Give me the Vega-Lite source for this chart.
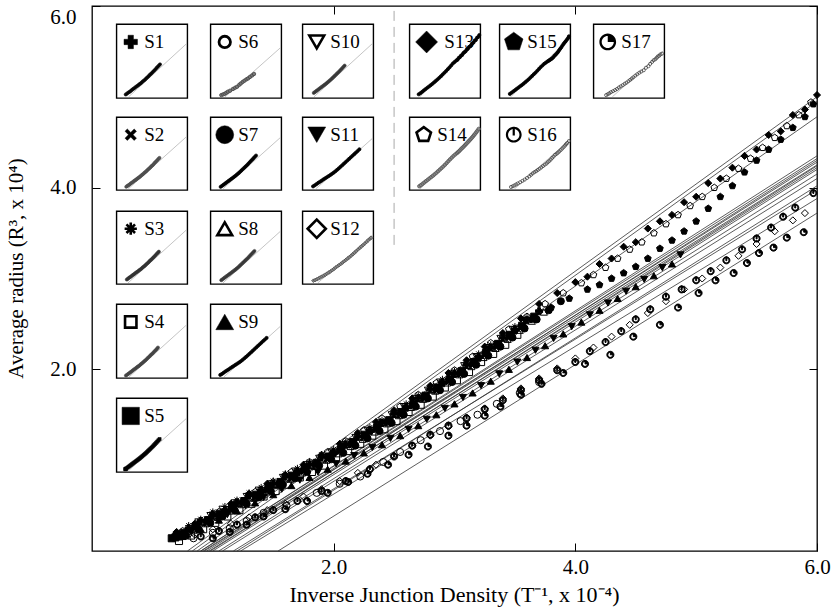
{
"$schema":"https://vega.github.io/schema/vega-lite/v6.json",
"width":725,"height":545,
"autosize":{"type":"none"},
"padding":{"left":92,"top":6,"right":14,"bottom":59},
"background":"white",
"config":{"view":{"stroke":"black","strokeWidth":1.3},"font":"Liberation Serif",
"axis":{"labelFont":"Liberation Serif","titleFont":"Liberation Serif","labelFontSize":21,"titleFontSize":21,"labelColor":"black","titleColor":"black","tickColor":"black","titleFontWeight":"normal","grid":false,"domain":false}},
"datasets":{
"fits":[
{"s":"S1","x":0.95,"y":0},{"s":"S1","x":6,"y":4.3},
{"s":"S2","x":0.92,"y":0},{"s":"S2","x":6,"y":4.28},
{"s":"S3","x":0.9,"y":0},{"s":"S3","x":6,"y":4.35},
{"s":"S4","x":1.0,"y":0},{"s":"S4","x":6,"y":4.2},
{"s":"S5","x":0.93,"y":0},{"s":"S5","x":6,"y":4.25},
{"s":"S6","x":1.17,"y":0},{"s":"S6","x":6,"y":3.98},
{"s":"S7","x":0.97,"y":0},{"s":"S7","x":6,"y":4.22},
{"s":"S8","x":0.98,"y":0},{"s":"S8","x":6,"y":4.24},
{"s":"S9","x":1.08,"y":0},{"s":"S9","x":6,"y":4.1},
{"s":"S10","x":0.9,"y":0},{"s":"S10","x":6,"y":4.32},
{"s":"S11","x":1.05,"y":0},{"s":"S11","x":6,"y":4.15},
{"s":"S12","x":1.23,"y":0},{"s":"S12","x":6,"y":3.88},
{"s":"S13","x":0.79,"y":0},{"s":"S13","x":6,"y":5.0},
{"s":"S14","x":0.83,"y":0},{"s":"S14","x":6,"y":4.95},
{"s":"S15","x":0.87,"y":0},{"s":"S15","x":6,"y":4.78},
{"s":"S16","x":1.2,"y":0},{"s":"S16","x":6,"y":4.02},
{"s":"S17","x":1.54,"y":0},{"s":"S17","x":6,"y":3.72}
],
"pts":[
{"s":"S1","x":0.7,"y":0.19},{"s":"S1","x":0.8,"y":0.25},{"s":"S1","x":0.9,"y":0.33},{"s":"S1","x":1.0,"y":0.39},{"s":"S1","x":1.1,"y":0.45},{"s":"S1","x":1.2,"y":0.53},{"s":"S1","x":1.3,"y":0.61},{"s":"S1","x":1.4,"y":0.67},{"s":"S1","x":1.5,"y":0.74},{"s":"S1","x":1.6,"y":0.82},{"s":"S1","x":1.7,"y":0.88},{"s":"S1","x":1.8,"y":0.95},{"s":"S1","x":1.9,"y":1.03},{"s":"S1","x":2.0,"y":1.09},{"s":"S1","x":2.1,"y":1.17},{"s":"S1","x":2.2,"y":1.26},{"s":"S1","x":2.3,"y":1.33},{"s":"S1","x":2.4,"y":1.41},{"s":"S1","x":2.5,"y":1.51},{"s":"S1","x":2.6,"y":1.59},{"s":"S1","x":2.7,"y":1.68},{"s":"S1","x":2.8,"y":1.78},{"s":"S1","x":2.9,"y":1.86},{"s":"S1","x":3.0,"y":1.95},{"s":"S1","x":3.1,"y":2.05},{"s":"S1","x":3.2,"y":2.14},{"s":"S1","x":3.3,"y":2.24},{"s":"S1","x":3.4,"y":2.35},{"s":"S1","x":3.5,"y":2.44},{"s":"S1","x":3.6,"y":2.54},{"s":"S1","x":3.7,"y":2.64},
{"s":"S2","x":0.75,"y":0.18},{"s":"S2","x":0.85,"y":0.25},{"s":"S2","x":0.95,"y":0.31},{"s":"S2","x":1.05,"y":0.38},{"s":"S2","x":1.15,"y":0.46},{"s":"S2","x":1.25,"y":0.52},{"s":"S2","x":1.35,"y":0.59},{"s":"S2","x":1.45,"y":0.67},{"s":"S2","x":1.55,"y":0.73},{"s":"S2","x":1.65,"y":0.8},{"s":"S2","x":1.75,"y":0.88},{"s":"S2","x":1.85,"y":0.94},{"s":"S2","x":1.95,"y":1.01},{"s":"S2","x":2.05,"y":1.1},{"s":"S2","x":2.15,"y":1.17},{"s":"S2","x":2.25,"y":1.25},{"s":"S2","x":2.35,"y":1.34},{"s":"S2","x":2.45,"y":1.41},{"s":"S2","x":2.55,"y":1.5},{"s":"S2","x":2.65,"y":1.6},{"s":"S2","x":2.75,"y":1.68},{"s":"S2","x":2.85,"y":1.77},{"s":"S2","x":2.95,"y":1.87},{"s":"S2","x":3.05,"y":1.95},{"s":"S2","x":3.15,"y":2.05},{"s":"S2","x":3.25,"y":2.16},{"s":"S2","x":3.35,"y":2.25},{"s":"S2","x":3.45,"y":2.35},{"s":"S2","x":3.55,"y":2.46},{"s":"S2","x":3.65,"y":2.55},
{"s":"S3","x":0.8,"y":0.28},{"s":"S3","x":0.9,"y":0.35},{"s":"S3","x":1.0,"y":0.43},{"s":"S3","x":1.1,"y":0.49},{"s":"S3","x":1.2,"y":0.56},{"s":"S3","x":1.3,"y":0.64},{"s":"S3","x":1.4,"y":0.7},{"s":"S3","x":1.5,"y":0.77},{"s":"S3","x":1.6,"y":0.85},{"s":"S3","x":1.7,"y":0.91},{"s":"S3","x":1.8,"y":0.98},{"s":"S3","x":1.9,"y":1.06},{"s":"S3","x":2.0,"y":1.12},{"s":"S3","x":2.1,"y":1.2},{"s":"S3","x":2.2,"y":1.29},{"s":"S3","x":2.3,"y":1.36},{"s":"S3","x":2.4,"y":1.44},{"s":"S3","x":2.5,"y":1.54},{"s":"S3","x":2.6,"y":1.62},{"s":"S3","x":2.7,"y":1.71},{"s":"S3","x":2.8,"y":1.81},{"s":"S3","x":2.9,"y":1.89},{"s":"S3","x":3.0,"y":1.98},{"s":"S3","x":3.1,"y":2.08},{"s":"S3","x":3.2,"y":2.17},{"s":"S3","x":3.3,"y":2.27},{"s":"S3","x":3.4,"y":2.38},{"s":"S3","x":3.5,"y":2.47},{"s":"S3","x":3.6,"y":2.57},
{"s":"S4","x":0.72,"y":0.11},{"s":"S4","x":0.82,"y":0.17},{"s":"S4","x":0.92,"y":0.24},{"s":"S4","x":1.02,"y":0.31},{"s":"S4","x":1.12,"y":0.38},{"s":"S4","x":1.22,"y":0.45},{"s":"S4","x":1.32,"y":0.52},{"s":"S4","x":1.42,"y":0.6},{"s":"S4","x":1.52,"y":0.66},{"s":"S4","x":1.62,"y":0.73},{"s":"S4","x":1.72,"y":0.81},{"s":"S4","x":1.82,"y":0.87},{"s":"S4","x":1.92,"y":0.94},{"s":"S4","x":2.02,"y":1.03},{"s":"S4","x":2.12,"y":1.1},{"s":"S4","x":2.22,"y":1.18},{"s":"S4","x":2.32,"y":1.27},{"s":"S4","x":2.42,"y":1.34},{"s":"S4","x":2.52,"y":1.43},{"s":"S4","x":2.62,"y":1.53},{"s":"S4","x":2.72,"y":1.61},{"s":"S4","x":2.82,"y":1.7},{"s":"S4","x":2.92,"y":1.8},{"s":"S4","x":3.02,"y":1.88},{"s":"S4","x":3.12,"y":1.97},{"s":"S4","x":3.22,"y":2.08},{"s":"S4","x":3.32,"y":2.17},{"s":"S4","x":3.42,"y":2.27},{"s":"S4","x":3.52,"y":2.38},
{"s":"S5","x":0.66,"y":0.14},{"s":"S5","x":0.69,"y":0.15},{"s":"S5","x":0.72,"y":0.16},{"s":"S5","x":0.76,"y":0.2},{"s":"S5","x":0.86,"y":0.27},{"s":"S5","x":0.96,"y":0.34},{"s":"S5","x":1.06,"y":0.41},{"s":"S5","x":1.16,"y":0.48},{"s":"S5","x":1.26,"y":0.55},{"s":"S5","x":1.36,"y":0.62},{"s":"S5","x":1.46,"y":0.69},{"s":"S5","x":1.56,"y":0.76},{"s":"S5","x":1.66,"y":0.83},{"s":"S5","x":1.76,"y":0.9},{"s":"S5","x":1.86,"y":0.97},{"s":"S5","x":1.96,"y":1.04},{"s":"S5","x":2.06,"y":1.12},{"s":"S5","x":2.16,"y":1.2},{"s":"S5","x":2.26,"y":1.28},{"s":"S5","x":2.36,"y":1.36},{"s":"S5","x":2.46,"y":1.44},{"s":"S5","x":2.56,"y":1.53},{"s":"S5","x":2.66,"y":1.62},{"s":"S5","x":2.76,"y":1.71},{"s":"S5","x":2.86,"y":1.8},{"s":"S5","x":2.96,"y":1.89},{"s":"S5","x":3.06,"y":1.98},{"s":"S5","x":3.16,"y":2.08},{"s":"S5","x":3.26,"y":2.18},{"s":"S5","x":3.36,"y":2.28},{"s":"S5","x":3.46,"y":2.38},{"s":"S5","x":3.56,"y":2.48},{"s":"S5","x":3.66,"y":2.58},
{"s":"S6","x":0.84,"y":0.14},{"s":"S6","x":1.0,"y":0.2},{"s":"S6","x":1.14,"y":0.25},{"s":"S6","x":1.28,"y":0.33},{"s":"S6","x":1.42,"y":0.42},{"s":"S6","x":1.61,"y":0.5},{"s":"S6","x":1.86,"y":0.64},{"s":"S6","x":2.05,"y":0.74},{"s":"S6","x":2.22,"y":0.82},{"s":"S6","x":2.41,"y":0.98},{"s":"S6","x":2.55,"y":1.09},{"s":"S6","x":2.72,"y":1.22},{"s":"S6","x":2.88,"y":1.32},{"s":"S6","x":3.05,"y":1.43},{"s":"S6","x":3.19,"y":1.5},{"s":"S6","x":3.35,"y":1.62},{"s":"S6","x":3.54,"y":1.74},{"s":"S6","x":3.7,"y":1.86},
{"s":"S7","x":0.78,"y":0.17},{"s":"S7","x":0.88,"y":0.24},{"s":"S7","x":0.98,"y":0.31},{"s":"S7","x":1.08,"y":0.38},{"s":"S7","x":1.18,"y":0.45},{"s":"S7","x":1.28,"y":0.52},{"s":"S7","x":1.38,"y":0.59},{"s":"S7","x":1.48,"y":0.66},{"s":"S7","x":1.58,"y":0.73},{"s":"S7","x":1.68,"y":0.8},{"s":"S7","x":1.78,"y":0.87},{"s":"S7","x":1.88,"y":0.94},{"s":"S7","x":1.98,"y":1.01},{"s":"S7","x":2.08,"y":1.08},{"s":"S7","x":2.18,"y":1.16},{"s":"S7","x":2.28,"y":1.24},{"s":"S7","x":2.38,"y":1.32},{"s":"S7","x":2.48,"y":1.41},{"s":"S7","x":2.58,"y":1.5},{"s":"S7","x":2.68,"y":1.59},{"s":"S7","x":2.78,"y":1.68},{"s":"S7","x":2.88,"y":1.77},{"s":"S7","x":2.98,"y":1.86},{"s":"S7","x":3.08,"y":1.95},{"s":"S7","x":3.18,"y":2.05},{"s":"S7","x":3.28,"y":2.15},{"s":"S7","x":3.38,"y":2.25},{"s":"S7","x":3.48,"y":2.35},{"s":"S7","x":3.58,"y":2.45},{"s":"S7","x":3.68,"y":2.55},{"s":"S7","x":3.78,"y":2.65},{"s":"S7","x":3.88,"y":2.75},
{"s":"S8","x":0.84,"y":0.23},{"s":"S8","x":0.94,"y":0.3},{"s":"S8","x":1.04,"y":0.37},{"s":"S8","x":1.14,"y":0.44},{"s":"S8","x":1.24,"y":0.51},{"s":"S8","x":1.34,"y":0.58},{"s":"S8","x":1.44,"y":0.65},{"s":"S8","x":1.54,"y":0.72},{"s":"S8","x":1.64,"y":0.79},{"s":"S8","x":1.74,"y":0.86},{"s":"S8","x":1.84,"y":0.93},{"s":"S8","x":1.94,"y":1.0},{"s":"S8","x":2.04,"y":1.07},{"s":"S8","x":2.14,"y":1.15},{"s":"S8","x":2.24,"y":1.23},{"s":"S8","x":2.34,"y":1.31},{"s":"S8","x":2.44,"y":1.4},{"s":"S8","x":2.54,"y":1.49},{"s":"S8","x":2.64,"y":1.58},{"s":"S8","x":2.74,"y":1.67},{"s":"S8","x":2.84,"y":1.76},{"s":"S8","x":2.94,"y":1.85},{"s":"S8","x":3.04,"y":1.94},{"s":"S8","x":3.14,"y":2.03},{"s":"S8","x":3.24,"y":2.13},{"s":"S8","x":3.34,"y":2.23},{"s":"S8","x":3.44,"y":2.33},{"s":"S8","x":3.54,"y":2.43},{"s":"S8","x":3.64,"y":2.53},{"s":"S8","x":3.74,"y":2.63},
{"s":"S9","x":0.75,"y":0.16},{"s":"S9","x":0.9,"y":0.24},{"s":"S9","x":1.05,"y":0.34},{"s":"S9","x":1.2,"y":0.44},{"s":"S9","x":1.35,"y":0.53},{"s":"S9","x":1.5,"y":0.62},{"s":"S9","x":1.65,"y":0.72},{"s":"S9","x":1.8,"y":0.81},{"s":"S9","x":1.95,"y":0.9},{"s":"S9","x":2.1,"y":0.99},{"s":"S9","x":2.25,"y":1.08},{"s":"S9","x":2.4,"y":1.17},{"s":"S9","x":2.55,"y":1.27},{"s":"S9","x":2.7,"y":1.38},{"s":"S9","x":2.85,"y":1.5},{"s":"S9","x":3.0,"y":1.62},{"s":"S9","x":3.15,"y":1.74},{"s":"S9","x":3.3,"y":1.87},{"s":"S9","x":3.45,"y":2.0},{"s":"S9","x":3.6,"y":2.13},{"s":"S9","x":3.75,"y":2.26},{"s":"S9","x":3.9,"y":2.39},{"s":"S9","x":4.05,"y":2.52},{"s":"S9","x":4.2,"y":2.65},{"s":"S9","x":4.35,"y":2.78},{"s":"S9","x":4.5,"y":2.91},{"s":"S9","x":4.65,"y":3.03},{"s":"S9","x":4.8,"y":3.16},
{"s":"S10","x":0.88,"y":0.32},{"s":"S10","x":0.98,"y":0.39},{"s":"S10","x":1.08,"y":0.46},{"s":"S10","x":1.18,"y":0.53},{"s":"S10","x":1.28,"y":0.6},{"s":"S10","x":1.38,"y":0.67},{"s":"S10","x":1.48,"y":0.74},{"s":"S10","x":1.58,"y":0.81},{"s":"S10","x":1.68,"y":0.88},{"s":"S10","x":1.78,"y":0.95},{"s":"S10","x":1.88,"y":1.02},{"s":"S10","x":1.98,"y":1.09},{"s":"S10","x":2.08,"y":1.17},{"s":"S10","x":2.18,"y":1.25},{"s":"S10","x":2.28,"y":1.33},{"s":"S10","x":2.38,"y":1.41},{"s":"S10","x":2.48,"y":1.5},{"s":"S10","x":2.58,"y":1.59},{"s":"S10","x":2.68,"y":1.68},{"s":"S10","x":2.78,"y":1.77},{"s":"S10","x":2.88,"y":1.86},{"s":"S10","x":2.98,"y":1.95},{"s":"S10","x":3.08,"y":2.04},{"s":"S10","x":3.18,"y":2.14},{"s":"S10","x":3.28,"y":2.24},{"s":"S10","x":3.38,"y":2.34},{"s":"S10","x":3.48,"y":2.44},{"s":"S10","x":3.58,"y":2.54},
{"s":"S11","x":0.82,"y":0.21},{"s":"S11","x":0.97,"y":0.3},{"s":"S11","x":1.12,"y":0.4},{"s":"S11","x":1.27,"y":0.5},{"s":"S11","x":1.42,"y":0.59},{"s":"S11","x":1.57,"y":0.68},{"s":"S11","x":1.72,"y":0.78},{"s":"S11","x":1.87,"y":0.87},{"s":"S11","x":2.02,"y":0.96},{"s":"S11","x":2.17,"y":1.05},{"s":"S11","x":2.32,"y":1.14},{"s":"S11","x":2.47,"y":1.24},{"s":"S11","x":2.62,"y":1.34},{"s":"S11","x":2.77,"y":1.45},{"s":"S11","x":2.92,"y":1.57},{"s":"S11","x":3.07,"y":1.69},{"s":"S11","x":3.22,"y":1.82},{"s":"S11","x":3.37,"y":1.95},{"s":"S11","x":3.52,"y":2.08},{"s":"S11","x":3.67,"y":2.21},{"s":"S11","x":3.82,"y":2.34},{"s":"S11","x":3.97,"y":2.47},{"s":"S11","x":4.12,"y":2.6},{"s":"S11","x":4.27,"y":2.73},{"s":"S11","x":4.42,"y":2.86},{"s":"S11","x":4.57,"y":2.99},{"s":"S11","x":4.72,"y":3.12},{"s":"S11","x":4.87,"y":3.26},
{"s":"S12","x":0.85,"y":0.18},{"s":"S12","x":1.0,"y":0.24},{"s":"S12","x":1.15,"y":0.3},{"s":"S12","x":1.3,"y":0.37},{"s":"S12","x":1.45,"y":0.45},{"s":"S12","x":1.6,"y":0.52},{"s":"S12","x":1.75,"y":0.6},{"s":"S12","x":1.9,"y":0.68},{"s":"S12","x":2.05,"y":0.77},{"s":"S12","x":2.2,"y":0.86},{"s":"S12","x":2.35,"y":0.95},{"s":"S12","x":2.5,"y":1.05},{"s":"S12","x":2.65,"y":1.16},{"s":"S12","x":2.8,"y":1.27},{"s":"S12","x":2.95,"y":1.37},{"s":"S12","x":3.1,"y":1.47},{"s":"S12","x":3.25,"y":1.57},{"s":"S12","x":3.4,"y":1.68},{"s":"S12","x":3.55,"y":1.79},{"s":"S12","x":3.7,"y":1.9},{"s":"S12","x":3.85,"y":2.01},{"s":"S12","x":4.0,"y":2.12},{"s":"S12","x":4.15,"y":2.24},{"s":"S12","x":4.3,"y":2.36},{"s":"S12","x":4.45,"y":2.49},{"s":"S12","x":4.6,"y":2.62},{"s":"S12","x":4.75,"y":2.75},{"s":"S12","x":4.9,"y":2.88},{"s":"S12","x":5.05,"y":3.0},{"s":"S12","x":5.2,"y":3.12},{"s":"S12","x":5.35,"y":3.25},{"s":"S12","x":5.5,"y":3.38},{"s":"S12","x":5.65,"y":3.52},{"s":"S12","x":5.8,"y":3.64},{"s":"S12","x":5.9,"y":3.72},
{"s":"S13","x":0.7,"y":0.21},{"s":"S13","x":0.85,"y":0.3},{"s":"S13","x":1.0,"y":0.41},{"s":"S13","x":1.15,"y":0.52},{"s":"S13","x":1.3,"y":0.63},{"s":"S13","x":1.45,"y":0.74},{"s":"S13","x":1.6,"y":0.84},{"s":"S13","x":1.75,"y":0.95},{"s":"S13","x":1.9,"y":1.06},{"s":"S13","x":2.05,"y":1.18},{"s":"S13","x":2.2,"y":1.3},{"s":"S13","x":2.35,"y":1.42},{"s":"S13","x":2.5,"y":1.55},{"s":"S13","x":2.65,"y":1.68},{"s":"S13","x":2.8,"y":1.82},{"s":"S13","x":2.95,"y":1.96},{"s":"S13","x":3.1,"y":2.1},{"s":"S13","x":3.25,"y":2.25},{"s":"S13","x":3.4,"y":2.4},{"s":"S13","x":3.55,"y":2.56},{"s":"S13","x":3.7,"y":2.72},{"s":"S13","x":3.85,"y":2.84},{"s":"S13","x":4.0,"y":2.96},{"s":"S13","x":4.1,"y":3.02},{"s":"S13","x":4.2,"y":3.16},{"s":"S13","x":4.3,"y":3.22},{"s":"S13","x":4.4,"y":3.35},{"s":"S13","x":4.5,"y":3.4},{"s":"S13","x":4.6,"y":3.55},{"s":"S13","x":4.7,"y":3.63},{"s":"S13","x":4.8,"y":3.7},{"s":"S13","x":4.9,"y":3.84},{"s":"S13","x":5.0,"y":3.9},{"s":"S13","x":5.1,"y":4.05},{"s":"S13","x":5.2,"y":4.1},{"s":"S13","x":5.3,"y":4.22},{"s":"S13","x":5.4,"y":4.35},{"s":"S13","x":5.5,"y":4.42},{"s":"S13","x":5.6,"y":4.58},{"s":"S13","x":5.7,"y":4.62},{"s":"S13","x":5.8,"y":4.8},{"s":"S13","x":5.9,"y":4.86},{"s":"S13","x":6.0,"y":5.02},
{"s":"S14","x":0.75,"y":0.22},{"s":"S14","x":0.9,"y":0.32},{"s":"S14","x":1.05,"y":0.43},{"s":"S14","x":1.2,"y":0.54},{"s":"S14","x":1.35,"y":0.65},{"s":"S14","x":1.5,"y":0.76},{"s":"S14","x":1.65,"y":0.87},{"s":"S14","x":1.8,"y":0.98},{"s":"S14","x":1.95,"y":1.09},{"s":"S14","x":2.1,"y":1.21},{"s":"S14","x":2.25,"y":1.33},{"s":"S14","x":2.4,"y":1.46},{"s":"S14","x":2.55,"y":1.59},{"s":"S14","x":2.7,"y":1.72},{"s":"S14","x":2.85,"y":1.85},{"s":"S14","x":3.0,"y":1.99},{"s":"S14","x":3.15,"y":2.14},{"s":"S14","x":3.3,"y":2.29},{"s":"S14","x":3.45,"y":2.44},{"s":"S14","x":3.6,"y":2.58},{"s":"S14","x":3.75,"y":2.72},{"s":"S14","x":3.9,"y":2.84},{"s":"S14","x":4.05,"y":2.95},{"s":"S14","x":4.15,"y":3.04},{"s":"S14","x":4.25,"y":3.12},{"s":"S14","x":4.35,"y":3.22},{"s":"S14","x":4.45,"y":3.32},{"s":"S14","x":4.55,"y":3.4},{"s":"S14","x":4.65,"y":3.5},{"s":"S14","x":4.75,"y":3.6},{"s":"S14","x":4.85,"y":3.7},{"s":"S14","x":4.95,"y":3.8},{"s":"S14","x":5.05,"y":3.9},{"s":"S14","x":5.15,"y":4.0},{"s":"S14","x":5.25,"y":4.1},{"s":"S14","x":5.35,"y":4.21},{"s":"S14","x":5.45,"y":4.32},{"s":"S14","x":5.55,"y":4.44},{"s":"S14","x":5.65,"y":4.55},{"s":"S14","x":5.75,"y":4.68},{"s":"S14","x":5.85,"y":4.8},{"s":"S14","x":5.95,"y":4.94},
{"s":"S15","x":0.8,"y":0.24},{"s":"S15","x":0.95,"y":0.34},{"s":"S15","x":1.1,"y":0.44},{"s":"S15","x":1.25,"y":0.54},{"s":"S15","x":1.4,"y":0.65},{"s":"S15","x":1.55,"y":0.75},{"s":"S15","x":1.7,"y":0.86},{"s":"S15","x":1.85,"y":0.96},{"s":"S15","x":2.0,"y":1.07},{"s":"S15","x":2.15,"y":1.19},{"s":"S15","x":2.3,"y":1.31},{"s":"S15","x":2.45,"y":1.43},{"s":"S15","x":2.6,"y":1.57},{"s":"S15","x":2.75,"y":1.7},{"s":"S15","x":2.9,"y":1.84},{"s":"S15","x":3.05,"y":1.97},{"s":"S15","x":3.2,"y":2.12},{"s":"S15","x":3.35,"y":2.27},{"s":"S15","x":3.5,"y":2.42},{"s":"S15","x":3.65,"y":2.55},{"s":"S15","x":3.8,"y":2.68},{"s":"S15","x":3.95,"y":2.78},{"s":"S15","x":4.1,"y":2.88},{"s":"S15","x":4.2,"y":2.93},{"s":"S15","x":4.3,"y":3.0},{"s":"S15","x":4.4,"y":3.06},{"s":"S15","x":4.5,"y":3.13},{"s":"S15","x":4.6,"y":3.22},{"s":"S15","x":4.7,"y":3.33},{"s":"S15","x":4.8,"y":3.42},{"s":"S15","x":4.9,"y":3.52},{"s":"S15","x":5.0,"y":3.63},{"s":"S15","x":5.1,"y":3.77},{"s":"S15","x":5.2,"y":3.9},{"s":"S15","x":5.3,"y":4.02},{"s":"S15","x":5.4,"y":4.17},{"s":"S15","x":5.5,"y":4.3},{"s":"S15","x":5.6,"y":4.42},{"s":"S15","x":5.7,"y":4.53},{"s":"S15","x":5.8,"y":4.66},{"s":"S15","x":5.9,"y":4.78},{"s":"S15","x":5.97,"y":4.92},
{"s":"S16","x":0.9,"y":0.16},{"s":"S16","x":1.05,"y":0.22},{"s":"S16","x":1.2,"y":0.29},{"s":"S16","x":1.35,"y":0.37},{"s":"S16","x":1.5,"y":0.45},{"s":"S16","x":1.7,"y":0.55},{"s":"S16","x":1.9,"y":0.66},{"s":"S16","x":2.1,"y":0.77},{"s":"S16","x":2.3,"y":0.9},{"s":"S16","x":2.5,"y":1.04},{"s":"S16","x":2.65,"y":1.16},{"s":"S16","x":2.8,"y":1.28},{"s":"S16","x":2.95,"y":1.38},{"s":"S16","x":3.1,"y":1.46},{"s":"S16","x":3.25,"y":1.56},{"s":"S16","x":3.4,"y":1.66},{"s":"S16","x":3.55,"y":1.77},{"s":"S16","x":3.7,"y":1.88},{"s":"S16","x":3.85,"y":1.99},{"s":"S16","x":4.0,"y":2.08},{"s":"S16","x":4.12,"y":2.2},{"s":"S16","x":4.25,"y":2.3},{"s":"S16","x":4.38,"y":2.42},{"s":"S16","x":4.5,"y":2.55},{"s":"S16","x":4.62,"y":2.66},{"s":"S16","x":4.75,"y":2.8},{"s":"S16","x":4.88,"y":2.88},{"s":"S16","x":5.0,"y":2.98},{"s":"S16","x":5.12,"y":3.08},{"s":"S16","x":5.25,"y":3.2},{"s":"S16","x":5.38,"y":3.32},{"s":"S16","x":5.5,"y":3.44},{"s":"S16","x":5.62,"y":3.56},{"s":"S16","x":5.72,"y":3.68},{"s":"S16","x":5.82,"y":3.78},{"s":"S16","x":5.97,"y":3.94},
{"s":"S17","x":1.0,"y":0.14},{"s":"S17","x":1.14,"y":0.21},{"s":"S17","x":1.28,"y":0.29},{"s":"S17","x":1.42,"y":0.38},{"s":"S17","x":1.6,"y":0.46},{"s":"S17","x":1.78,"y":0.55},{"s":"S17","x":1.95,"y":0.64},{"s":"S17","x":2.12,"y":0.76},{"s":"S17","x":2.28,"y":0.85},{"s":"S17","x":2.45,"y":0.95},{"s":"S17","x":2.62,"y":1.06},{"s":"S17","x":2.78,"y":1.15},{"s":"S17","x":2.95,"y":1.27},{"s":"S17","x":3.1,"y":1.38},{"s":"S17","x":3.25,"y":1.49},{"s":"S17","x":3.38,"y":1.59},{"s":"S17","x":3.55,"y":1.72},{"s":"S17","x":3.72,"y":1.84},{"s":"S17","x":3.9,"y":1.96},{"s":"S17","x":4.08,"y":2.06},{"s":"S17","x":4.29,"y":2.16},{"s":"S17","x":4.48,"y":2.36},{"s":"S17","x":4.7,"y":2.49},{"s":"S17","x":4.85,"y":2.68},{"s":"S17","x":5.02,"y":2.84},{"s":"S17","x":5.16,"y":2.98},{"s":"S17","x":5.31,"y":3.06},{"s":"S17","x":5.42,"y":3.17},{"s":"S17","x":5.52,"y":3.28},{"s":"S17","x":5.64,"y":3.34},{"s":"S17","x":5.75,"y":3.45},{"s":"S17","x":5.89,"y":3.51}
]
},
"resolve":{"scale":{"x":"independent","y":"independent"}},
"layer":[
{"resolve":{"axis":{"x":"independent","y":"independent"}},
"layer":[
{"data":{"name":"fits"},"mark":{"type":"line","stroke":"#333","strokeWidth":0.8},
"encoding":{"detail":{"field":"s"},
"x":{"field":"x","type":"quantitative","scale":{"domain":[0,6],"nice":false,"zero":false},"axis":{"orient":"bottom","values":[2,4,6],"format":".1f","tickSize":-8,"labelPadding":13,"labelFlush":false,"title":"Inverse Junction Density (T⁻¹, x 10⁻⁴)","titleFontSize":22,"titleX":362,"titleY":50,"titleBaseline":"alphabetic","titleAlign":"center"}},
"y":{"field":"y","type":"quantitative","scale":{"domain":[0,6],"nice":false,"zero":false},"axis":{"orient":"left","values":[2,4,6],"format":".1f","tickSize":-8,"labelPadding":24,"labelFlush":true,"title":"Average radius (R³, x 10⁴)","titleX":-70,"titleY":262,"titleAngle":-90,"titleBaseline":"alphabetic","titleAlign":"center"}}}},
{"data":{"name":"pts"},"mark":{"type":"point","size":50,"stroke":"black","strokeWidth":1,"opacity":1},
"encoding":{"x":{"field":"x","type":"quantitative","axis":null},"y":{"field":"y","type":"quantitative","axis":null},
"shape":{"field":"s","type":"nominal","legend":null,"scale":{"domain":["S1","S2","S3","S4","S5","S6","S7","S8","S9","S10","S11","S12","S13","S14","S15","S16","S17"],"range":["cross","M-1,-0.6L-0.6,-1L0,-0.4L0.6,-1L1,-0.6L0.4,0L1,0.6L0.6,1L0,0.4L-0.6,1L-1,0.6L-0.4,0Z","M0,-1L0,1M-1,0L1,0M-0.7,-0.7L0.7,0.7M-0.7,0.7L0.7,-0.7","square","square","circle","circle","triangle-up","triangle-up","triangle-down","triangle-down","diamond","diamond","M0,-1L0.951,-0.309L0.588,0.809L-0.588,0.809L-0.951,-0.309Z","M0,-1L0.951,-0.309L0.588,0.809L-0.588,0.809L-0.951,-0.309Z","M0,-1A1,1,0,1,1,0,1A1,1,0,1,1,0,-1ZM0,-0.72A0.72,0.72,0,1,0,0,0.72A0.72,0.72,0,1,0,0,-0.72ZM-0.14,-1L0.14,-1L0.14,0.1L-0.14,0.1Z","M0,-1A1,1,0,1,1,0,1A1,1,0,1,1,0,-1ZM0,-0.72A0.72,0.72,0,1,0,0,0.72A0.72,0.72,0,1,0,0,-0.72ZM0,0L0,-0.72A0.72,0.72,0,0,1,0.72,0Z"]}},
"fill":{"field":"s","type":"nominal","legend":null,"scale":{"domain":["S1","S2","S3","S4","S5","S6","S7","S8","S9","S10","S11","S12","S13","S14","S15","S16","S17"],"range":["black","black","black","transparent","black","transparent","black","transparent","black","transparent","black","transparent","black","transparent","black","black","black"]}}}},
{"data":{"values":[{}]},"mark":{"type":"rule","stroke":"#aaa","strokeDash":[10,6],"strokeWidth":1},
"encoding":{"x":{"datum":2.5,"type":"quantitative","axis":{"orient":"top","values":[2,4,6],"labels":false,"title":null,"tickSize":-8}},
"y":{"datum":3.37,"type":"quantitative","axis":{"orient":"right","values":[2,4,6],"labels":false,"title":null,"tickSize":-8}},"y2":{"datum":6}}}
]},
{"layer":[
{"data":{"values":[{}]},"mark":{"type":"rect","fill":"white","stroke":"black","strokeWidth":1.4},"encoding":{"x":{"datum":-0.1,"type":"quantitative","scale":{"domain":[-0.1,6.1],"range":[20,100]},"axis":null},"x2":{"datum":6.1},"y":{"datum":-0.1,"type":"quantitative","scale":{"domain":[-0.1,5.9],"range":[97,17]},"axis":null},"y2":{"datum":5.9}}},
{"data":{"name":"fits"},"transform":[{"filter":"datum.s==='S1'"}],"mark":{"type":"line","stroke":"#aaa","strokeWidth":0.7},"encoding":{"x":{"field":"x","type":"quantitative","axis":null},"y":{"field":"y","type":"quantitative","axis":null}}},
{"data":{"name":"pts"},"transform":[{"filter":"datum.s==='S1'"}],"mark":{"type":"point","shape":"circle","size":10,"fill":"black","stroke":"#111","strokeWidth":0.6,"opacity":1},"encoding":{"x":{"field":"x","type":"quantitative","axis":null},"y":{"field":"y","type":"quantitative","axis":null}}},
{"data":{"values":[{}]},"mark":{"type":"point","shape":"cross","size":180,"fill":"black","stroke":"black","strokeWidth":0.5,"opacity":1},"encoding":{"x":{"datum":1.14,"axis":null},"y":{"datum":4.46,"axis":null}}},
{"data":{"values":[{}]},"mark":{"type":"text","text":"S1","fontSize":19,"align":"left","baseline":"alphabetic"},"encoding":{"x":{"datum":2.32,"axis":null},"y":{"datum":3.98,"axis":null}}}
]},
{"layer":[
{"data":{"values":[{}]},"mark":{"type":"rect","fill":"white","stroke":"black","strokeWidth":1.4},"encoding":{"x":{"datum":-0.1,"type":"quantitative","scale":{"domain":[-0.1,6.1],"range":[20,100]},"axis":null},"x2":{"datum":6.1},"y":{"datum":-0.1,"type":"quantitative","scale":{"domain":[-0.1,5.9],"range":[189,110]},"axis":null},"y2":{"datum":5.9}}},
{"data":{"name":"fits"},"transform":[{"filter":"datum.s==='S2'"}],"mark":{"type":"line","stroke":"#aaa","strokeWidth":0.7},"encoding":{"x":{"field":"x","type":"quantitative","axis":null},"y":{"field":"y","type":"quantitative","axis":null}}},
{"data":{"name":"pts"},"transform":[{"filter":"datum.s==='S2'"}],"mark":{"type":"point","shape":"circle","size":10,"fill":"#555","stroke":"#444","strokeWidth":0.6,"opacity":1},"encoding":{"x":{"field":"x","type":"quantitative","axis":null},"y":{"field":"y","type":"quantitative","axis":null}}},
{"data":{"values":[{}]},"mark":{"type":"point","shape":"M-1,-0.6L-0.6,-1L0,-0.4L0.6,-1L1,-0.6L0.4,0L1,0.6L0.6,1L0,0.4L-0.6,1L-1,0.6L-0.4,0Z","size":130,"fill":"black","stroke":"black","strokeWidth":0.5,"opacity":1},"encoding":{"x":{"datum":1.14,"axis":null},"y":{"datum":4.46,"axis":null}}},
{"data":{"values":[{}]},"mark":{"type":"text","text":"S2","fontSize":19,"align":"left","baseline":"alphabetic"},"encoding":{"x":{"datum":2.32,"axis":null},"y":{"datum":3.98,"axis":null}}}
]},
{"layer":[
{"data":{"values":[{}]},"mark":{"type":"rect","fill":"white","stroke":"black","strokeWidth":1.4},"encoding":{"x":{"datum":-0.1,"type":"quantitative","scale":{"domain":[-0.1,6.1],"range":[20,100]},"axis":null},"x2":{"datum":6.1},"y":{"datum":-0.1,"type":"quantitative","scale":{"domain":[-0.1,5.9],"range":[283,204]},"axis":null},"y2":{"datum":5.9}}},
{"data":{"name":"fits"},"transform":[{"filter":"datum.s==='S3'"}],"mark":{"type":"line","stroke":"#aaa","strokeWidth":0.7},"encoding":{"x":{"field":"x","type":"quantitative","axis":null},"y":{"field":"y","type":"quantitative","axis":null}}},
{"data":{"name":"pts"},"transform":[{"filter":"datum.s==='S3'"}],"mark":{"type":"point","shape":"circle","size":10,"fill":"#333","stroke":"#333","strokeWidth":0.6,"opacity":1},"encoding":{"x":{"field":"x","type":"quantitative","axis":null},"y":{"field":"y","type":"quantitative","axis":null}}},
{"data":{"values":[{}]},"mark":{"type":"point","shape":"M0,-1L0,1M-1,0L1,0M-0.7,-0.7L0.7,0.7M-0.7,0.7L0.7,-0.7","size":150,"fill":"black","stroke":"black","strokeWidth":2.6,"opacity":1},"encoding":{"x":{"datum":1.14,"axis":null},"y":{"datum":4.46,"axis":null}}},
{"data":{"values":[{}]},"mark":{"type":"text","text":"S3","fontSize":19,"align":"left","baseline":"alphabetic"},"encoding":{"x":{"datum":2.32,"axis":null},"y":{"datum":3.98,"axis":null}}}
]},
{"layer":[
{"data":{"values":[{}]},"mark":{"type":"rect","fill":"white","stroke":"black","strokeWidth":1.4},"encoding":{"x":{"datum":-0.1,"type":"quantitative","scale":{"domain":[-0.1,6.1],"range":[20,100]},"axis":null},"x2":{"datum":6.1},"y":{"datum":-0.1,"type":"quantitative","scale":{"domain":[-0.1,5.9],"range":[377,297]},"axis":null},"y2":{"datum":5.9}}},
{"data":{"name":"fits"},"transform":[{"filter":"datum.s==='S4'"}],"mark":{"type":"line","stroke":"#aaa","strokeWidth":0.7},"encoding":{"x":{"field":"x","type":"quantitative","axis":null},"y":{"field":"y","type":"quantitative","axis":null}}},
{"data":{"name":"pts"},"transform":[{"filter":"datum.s==='S4'"}],"mark":{"type":"point","shape":"circle","size":10,"fill":"#444","stroke":"#444","strokeWidth":0.6,"opacity":1},"encoding":{"x":{"field":"x","type":"quantitative","axis":null},"y":{"field":"y","type":"quantitative","axis":null}}},
{"data":{"values":[{}]},"mark":{"type":"point","shape":"square","size":130,"fill":"transparent","stroke":"black","strokeWidth":2.6,"opacity":1},"encoding":{"x":{"datum":1.14,"axis":null},"y":{"datum":4.46,"axis":null}}},
{"data":{"values":[{}]},"mark":{"type":"text","text":"S4","fontSize":19,"align":"left","baseline":"alphabetic"},"encoding":{"x":{"datum":2.32,"axis":null},"y":{"datum":3.98,"axis":null}}}
]},
{"layer":[
{"data":{"values":[{}]},"mark":{"type":"rect","fill":"white","stroke":"black","strokeWidth":1.4},"encoding":{"x":{"datum":-0.1,"type":"quantitative","scale":{"domain":[-0.1,6.1],"range":[20,100]},"axis":null},"x2":{"datum":6.1},"y":{"datum":-0.1,"type":"quantitative","scale":{"domain":[-0.1,5.9],"range":[471,391]},"axis":null},"y2":{"datum":5.9}}},
{"data":{"name":"fits"},"transform":[{"filter":"datum.s==='S5'"}],"mark":{"type":"line","stroke":"#aaa","strokeWidth":0.7},"encoding":{"x":{"field":"x","type":"quantitative","axis":null},"y":{"field":"y","type":"quantitative","axis":null}}},
{"data":{"name":"pts"},"transform":[{"filter":"datum.s==='S5'"}],"mark":{"type":"point","shape":"square","size":10,"fill":"black","stroke":"black","strokeWidth":0.6,"opacity":1},"encoding":{"x":{"field":"x","type":"quantitative","axis":null},"y":{"field":"y","type":"quantitative","axis":null}}},
{"data":{"values":[{}]},"mark":{"type":"point","shape":"square","size":300,"fill":"black","stroke":"black","strokeWidth":0.5,"opacity":1},"encoding":{"x":{"datum":1.14,"axis":null},"y":{"datum":4.46,"axis":null}}},
{"data":{"values":[{}]},"mark":{"type":"text","text":"S5","fontSize":19,"align":"left","baseline":"alphabetic"},"encoding":{"x":{"datum":2.32,"axis":null},"y":{"datum":3.98,"axis":null}}}
]},
{"layer":[
{"data":{"values":[{}]},"mark":{"type":"rect","fill":"white","stroke":"black","strokeWidth":1.4},"encoding":{"x":{"datum":-0.1,"type":"quantitative","scale":{"domain":[-0.1,6.1],"range":[114,194]},"axis":null},"x2":{"datum":6.1},"y":{"datum":-0.1,"type":"quantitative","scale":{"domain":[-0.1,5.9],"range":[97,17]},"axis":null},"y2":{"datum":5.9}}},
{"data":{"name":"fits"},"transform":[{"filter":"datum.s==='S6'"}],"mark":{"type":"line","stroke":"#aaa","strokeWidth":0.7},"encoding":{"x":{"field":"x","type":"quantitative","axis":null},"y":{"field":"y","type":"quantitative","axis":null}}},
{"data":{"name":"pts"},"transform":[{"filter":"datum.s==='S6'"}],"mark":{"type":"point","shape":"circle","size":12,"fill":"#777","stroke":"#444","strokeWidth":0.8,"opacity":1},"encoding":{"x":{"field":"x","type":"quantitative","axis":null},"y":{"field":"y","type":"quantitative","axis":null}}},
{"data":{"values":[{}]},"mark":{"type":"point","shape":"circle","size":130,"fill":"transparent","stroke":"black","strokeWidth":2.8,"opacity":1},"encoding":{"x":{"datum":1.14,"axis":null},"y":{"datum":4.46,"axis":null}}},
{"data":{"values":[{}]},"mark":{"type":"text","text":"S6","fontSize":19,"align":"left","baseline":"alphabetic"},"encoding":{"x":{"datum":2.32,"axis":null},"y":{"datum":3.98,"axis":null}}}
]},
{"layer":[
{"data":{"values":[{}]},"mark":{"type":"rect","fill":"white","stroke":"black","strokeWidth":1.4},"encoding":{"x":{"datum":-0.1,"type":"quantitative","scale":{"domain":[-0.1,6.1],"range":[114,194]},"axis":null},"x2":{"datum":6.1},"y":{"datum":-0.1,"type":"quantitative","scale":{"domain":[-0.1,5.9],"range":[189,110]},"axis":null},"y2":{"datum":5.9}}},
{"data":{"name":"fits"},"transform":[{"filter":"datum.s==='S7'"}],"mark":{"type":"line","stroke":"#aaa","strokeWidth":0.7},"encoding":{"x":{"field":"x","type":"quantitative","axis":null},"y":{"field":"y","type":"quantitative","axis":null}}},
{"data":{"name":"pts"},"transform":[{"filter":"datum.s==='S7'"}],"mark":{"type":"point","shape":"circle","size":10,"fill":"black","stroke":"black","strokeWidth":0.6,"opacity":1},"encoding":{"x":{"field":"x","type":"quantitative","axis":null},"y":{"field":"y","type":"quantitative","axis":null}}},
{"data":{"values":[{}]},"mark":{"type":"point","shape":"circle","size":320,"fill":"black","stroke":"black","strokeWidth":0.5,"opacity":1},"encoding":{"x":{"datum":1.14,"axis":null},"y":{"datum":4.46,"axis":null}}},
{"data":{"values":[{}]},"mark":{"type":"text","text":"S7","fontSize":19,"align":"left","baseline":"alphabetic"},"encoding":{"x":{"datum":2.32,"axis":null},"y":{"datum":3.98,"axis":null}}}
]},
{"layer":[
{"data":{"values":[{}]},"mark":{"type":"rect","fill":"white","stroke":"black","strokeWidth":1.4},"encoding":{"x":{"datum":-0.1,"type":"quantitative","scale":{"domain":[-0.1,6.1],"range":[114,194]},"axis":null},"x2":{"datum":6.1},"y":{"datum":-0.1,"type":"quantitative","scale":{"domain":[-0.1,5.9],"range":[283,204]},"axis":null},"y2":{"datum":5.9}}},
{"data":{"name":"fits"},"transform":[{"filter":"datum.s==='S8'"}],"mark":{"type":"line","stroke":"#aaa","strokeWidth":0.7},"encoding":{"x":{"field":"x","type":"quantitative","axis":null},"y":{"field":"y","type":"quantitative","axis":null}}},
{"data":{"name":"pts"},"transform":[{"filter":"datum.s==='S8'"}],"mark":{"type":"point","shape":"circle","size":10,"fill":"#333","stroke":"#444","strokeWidth":0.6,"opacity":1},"encoding":{"x":{"field":"x","type":"quantitative","axis":null},"y":{"field":"y","type":"quantitative","axis":null}}},
{"data":{"values":[{}]},"mark":{"type":"point","shape":"triangle-up","size":220,"fill":"transparent","stroke":"black","strokeWidth":2.6,"opacity":1},"encoding":{"x":{"datum":1.14,"axis":null},"y":{"datum":4.46,"axis":null}}},
{"data":{"values":[{}]},"mark":{"type":"text","text":"S8","fontSize":19,"align":"left","baseline":"alphabetic"},"encoding":{"x":{"datum":2.32,"axis":null},"y":{"datum":3.98,"axis":null}}}
]},
{"layer":[
{"data":{"values":[{}]},"mark":{"type":"rect","fill":"white","stroke":"black","strokeWidth":1.4},"encoding":{"x":{"datum":-0.1,"type":"quantitative","scale":{"domain":[-0.1,6.1],"range":[114,194]},"axis":null},"x2":{"datum":6.1},"y":{"datum":-0.1,"type":"quantitative","scale":{"domain":[-0.1,5.9],"range":[377,297]},"axis":null},"y2":{"datum":5.9}}},
{"data":{"name":"fits"},"transform":[{"filter":"datum.s==='S9'"}],"mark":{"type":"line","stroke":"#aaa","strokeWidth":0.7},"encoding":{"x":{"field":"x","type":"quantitative","axis":null},"y":{"field":"y","type":"quantitative","axis":null}}},
{"data":{"name":"pts"},"transform":[{"filter":"datum.s==='S9'"}],"mark":{"type":"point","shape":"circle","size":10,"fill":"black","stroke":"black","strokeWidth":0.8,"opacity":1},"encoding":{"x":{"field":"x","type":"quantitative","axis":null},"y":{"field":"y","type":"quantitative","axis":null}}},
{"data":{"values":[{}]},"mark":{"type":"point","shape":"triangle-up","size":320,"fill":"black","stroke":"black","strokeWidth":0.5,"opacity":1},"encoding":{"x":{"datum":1.14,"axis":null},"y":{"datum":4.46,"axis":null}}},
{"data":{"values":[{}]},"mark":{"type":"text","text":"S9","fontSize":19,"align":"left","baseline":"alphabetic"},"encoding":{"x":{"datum":2.32,"axis":null},"y":{"datum":3.98,"axis":null}}}
]},
{"layer":[
{"data":{"values":[{}]},"mark":{"type":"rect","fill":"white","stroke":"black","strokeWidth":1.4},"encoding":{"x":{"datum":-0.1,"type":"quantitative","scale":{"domain":[-0.1,6.1],"range":[206,286]},"axis":null},"x2":{"datum":6.1},"y":{"datum":-0.1,"type":"quantitative","scale":{"domain":[-0.1,5.9],"range":[97,17]},"axis":null},"y2":{"datum":5.9}}},
{"data":{"name":"fits"},"transform":[{"filter":"datum.s==='S10'"}],"mark":{"type":"line","stroke":"#aaa","strokeWidth":0.7},"encoding":{"x":{"field":"x","type":"quantitative","axis":null},"y":{"field":"y","type":"quantitative","axis":null}}},
{"data":{"name":"pts"},"transform":[{"filter":"datum.s==='S10'"}],"mark":{"type":"point","shape":"circle","size":10,"fill":"#333","stroke":"#444","strokeWidth":0.6,"opacity":1},"encoding":{"x":{"field":"x","type":"quantitative","axis":null},"y":{"field":"y","type":"quantitative","axis":null}}},
{"data":{"values":[{}]},"mark":{"type":"point","shape":"triangle-down","size":220,"fill":"transparent","stroke":"black","strokeWidth":2.6,"opacity":1},"encoding":{"x":{"datum":1.14,"axis":null},"y":{"datum":4.46,"axis":null}}},
{"data":{"values":[{}]},"mark":{"type":"text","text":"S10","fontSize":19,"align":"left","baseline":"alphabetic"},"encoding":{"x":{"datum":2.32,"axis":null},"y":{"datum":3.98,"axis":null}}}
]},
{"layer":[
{"data":{"values":[{}]},"mark":{"type":"rect","fill":"white","stroke":"black","strokeWidth":1.4},"encoding":{"x":{"datum":-0.1,"type":"quantitative","scale":{"domain":[-0.1,6.1],"range":[206,286]},"axis":null},"x2":{"datum":6.1},"y":{"datum":-0.1,"type":"quantitative","scale":{"domain":[-0.1,5.9],"range":[189,110]},"axis":null},"y2":{"datum":5.9}}},
{"data":{"name":"fits"},"transform":[{"filter":"datum.s==='S11'"}],"mark":{"type":"line","stroke":"#aaa","strokeWidth":0.7},"encoding":{"x":{"field":"x","type":"quantitative","axis":null},"y":{"field":"y","type":"quantitative","axis":null}}},
{"data":{"name":"pts"},"transform":[{"filter":"datum.s==='S11'"}],"mark":{"type":"point","shape":"circle","size":10,"fill":"black","stroke":"black","strokeWidth":0.8,"opacity":1},"encoding":{"x":{"field":"x","type":"quantitative","axis":null},"y":{"field":"y","type":"quantitative","axis":null}}},
{"data":{"values":[{}]},"mark":{"type":"point","shape":"triangle-down","size":320,"fill":"black","stroke":"black","strokeWidth":0.5,"opacity":1},"encoding":{"x":{"datum":1.14,"axis":null},"y":{"datum":4.46,"axis":null}}},
{"data":{"values":[{}]},"mark":{"type":"text","text":"S11","fontSize":19,"align":"left","baseline":"alphabetic"},"encoding":{"x":{"datum":2.32,"axis":null},"y":{"datum":3.98,"axis":null}}}
]},
{"layer":[
{"data":{"values":[{}]},"mark":{"type":"rect","fill":"white","stroke":"black","strokeWidth":1.4},"encoding":{"x":{"datum":-0.1,"type":"quantitative","scale":{"domain":[-0.1,6.1],"range":[206,286]},"axis":null},"x2":{"datum":6.1},"y":{"datum":-0.1,"type":"quantitative","scale":{"domain":[-0.1,5.9],"range":[283,204]},"axis":null},"y2":{"datum":5.9}}},
{"data":{"name":"fits"},"transform":[{"filter":"datum.s==='S12'"}],"mark":{"type":"line","stroke":"#aaa","strokeWidth":0.7},"encoding":{"x":{"field":"x","type":"quantitative","axis":null},"y":{"field":"y","type":"quantitative","axis":null}}},
{"data":{"name":"pts"},"transform":[{"filter":"datum.s==='S12'"}],"mark":{"type":"point","shape":"diamond","size":14,"fill":"#888","stroke":"#444","strokeWidth":0.7,"opacity":1},"encoding":{"x":{"field":"x","type":"quantitative","axis":null},"y":{"field":"y","type":"quantitative","axis":null}}},
{"data":{"values":[{}]},"mark":{"type":"point","shape":"diamond","size":330,"fill":"transparent","stroke":"black","strokeWidth":2.6,"opacity":1},"encoding":{"x":{"datum":1.14,"axis":null},"y":{"datum":4.46,"axis":null}}},
{"data":{"values":[{}]},"mark":{"type":"text","text":"S12","fontSize":19,"align":"left","baseline":"alphabetic"},"encoding":{"x":{"datum":2.32,"axis":null},"y":{"datum":3.98,"axis":null}}}
]},
{"layer":[
{"data":{"values":[{}]},"mark":{"type":"rect","fill":"white","stroke":"black","strokeWidth":1.4},"encoding":{"x":{"datum":-0.1,"type":"quantitative","scale":{"domain":[-0.1,6.1],"range":[313,393]},"axis":null},"x2":{"datum":6.1},"y":{"datum":-0.1,"type":"quantitative","scale":{"domain":[-0.1,5.9],"range":[97,17]},"axis":null},"y2":{"datum":5.9}}},
{"data":{"name":"fits"},"transform":[{"filter":"datum.s==='S13'"}],"mark":{"type":"line","stroke":"#aaa","strokeWidth":0.7},"encoding":{"x":{"field":"x","type":"quantitative","axis":null},"y":{"field":"y","type":"quantitative","axis":null}}},
{"data":{"name":"pts"},"transform":[{"filter":"datum.s==='S13'"}],"mark":{"type":"point","shape":"circle","size":10,"fill":"black","stroke":"black","strokeWidth":0.8,"opacity":1},"encoding":{"x":{"field":"x","type":"quantitative","axis":null},"y":{"field":"y","type":"quantitative","axis":null}}},
{"data":{"values":[{}]},"mark":{"type":"point","shape":"diamond","size":480,"fill":"black","stroke":"black","strokeWidth":0.5,"opacity":1},"encoding":{"x":{"datum":1.39,"axis":null},"y":{"datum":4.46,"axis":null}}},
{"data":{"values":[{}]},"mark":{"type":"text","text":"S13","fontSize":19,"align":"left","baseline":"alphabetic"},"encoding":{"x":{"datum":2.94,"axis":null},"y":{"datum":3.98,"axis":null}}}
]},
{"layer":[
{"data":{"values":[{}]},"mark":{"type":"rect","fill":"white","stroke":"black","strokeWidth":1.4},"encoding":{"x":{"datum":-0.1,"type":"quantitative","scale":{"domain":[-0.1,6.1],"range":[313,393]},"axis":null},"x2":{"datum":6.1},"y":{"datum":-0.1,"type":"quantitative","scale":{"domain":[-0.1,5.9],"range":[189,110]},"axis":null},"y2":{"datum":5.9}}},
{"data":{"name":"fits"},"transform":[{"filter":"datum.s==='S14'"}],"mark":{"type":"line","stroke":"#aaa","strokeWidth":0.7},"encoding":{"x":{"field":"x","type":"quantitative","axis":null},"y":{"field":"y","type":"quantitative","axis":null}}},
{"data":{"name":"pts"},"transform":[{"filter":"datum.s==='S14'"}],"mark":{"type":"point","shape":"circle","size":12,"fill":"#888","stroke":"#555","strokeWidth":0.8,"opacity":1},"encoding":{"x":{"field":"x","type":"quantitative","axis":null},"y":{"field":"y","type":"quantitative","axis":null}}},
{"data":{"values":[{}]},"mark":{"type":"point","shape":"M0,-1L0.951,-0.309L0.588,0.809L-0.588,0.809L-0.951,-0.309Z","size":230,"fill":"transparent","stroke":"black","strokeWidth":2.6,"opacity":1},"encoding":{"x":{"datum":1.14,"axis":null},"y":{"datum":4.46,"axis":null}}},
{"data":{"values":[{}]},"mark":{"type":"text","text":"S14","fontSize":19,"align":"left","baseline":"alphabetic"},"encoding":{"x":{"datum":2.32,"axis":null},"y":{"datum":3.98,"axis":null}}}
]},
{"layer":[
{"data":{"values":[{}]},"mark":{"type":"rect","fill":"white","stroke":"black","strokeWidth":1.4},"encoding":{"x":{"datum":-0.1,"type":"quantitative","scale":{"domain":[-0.1,6.1],"range":[403,483]},"axis":null},"x2":{"datum":6.1},"y":{"datum":-0.1,"type":"quantitative","scale":{"domain":[-0.1,5.9],"range":[97,17]},"axis":null},"y2":{"datum":5.9}}},
{"data":{"name":"fits"},"transform":[{"filter":"datum.s==='S15'"}],"mark":{"type":"line","stroke":"#aaa","strokeWidth":0.7},"encoding":{"x":{"field":"x","type":"quantitative","axis":null},"y":{"field":"y","type":"quantitative","axis":null}}},
{"data":{"name":"pts"},"transform":[{"filter":"datum.s==='S15'"}],"mark":{"type":"point","shape":"circle","size":10,"fill":"black","stroke":"black","strokeWidth":0.8,"opacity":1},"encoding":{"x":{"field":"x","type":"quantitative","axis":null},"y":{"field":"y","type":"quantitative","axis":null}}},
{"data":{"values":[{}]},"mark":{"type":"point","shape":"M0,-1L0.951,-0.309L0.588,0.809L-0.588,0.809L-0.951,-0.309Z","size":380,"fill":"black","stroke":"black","strokeWidth":0.5,"opacity":1},"encoding":{"x":{"datum":1.14,"axis":null},"y":{"datum":4.46,"axis":null}}},
{"data":{"values":[{}]},"mark":{"type":"text","text":"S15","fontSize":19,"align":"left","baseline":"alphabetic"},"encoding":{"x":{"datum":2.32,"axis":null},"y":{"datum":3.98,"axis":null}}}
]},
{"layer":[
{"data":{"values":[{}]},"mark":{"type":"rect","fill":"white","stroke":"black","strokeWidth":1.4},"encoding":{"x":{"datum":-0.1,"type":"quantitative","scale":{"domain":[-0.1,6.1],"range":[403,483]},"axis":null},"x2":{"datum":6.1},"y":{"datum":-0.1,"type":"quantitative","scale":{"domain":[-0.1,5.9],"range":[189,110]},"axis":null},"y2":{"datum":5.9}}},
{"data":{"name":"fits"},"transform":[{"filter":"datum.s==='S16'"}],"mark":{"type":"line","stroke":"#aaa","strokeWidth":0.7},"encoding":{"x":{"field":"x","type":"quantitative","axis":null},"y":{"field":"y","type":"quantitative","axis":null}}},
{"data":{"name":"pts"},"transform":[{"filter":"datum.s==='S16'"}],"mark":{"type":"point","shape":"circle","size":10,"fill":"transparent","stroke":"#333","strokeWidth":0.7,"opacity":1},"encoding":{"x":{"field":"x","type":"quantitative","axis":null},"y":{"field":"y","type":"quantitative","axis":null}}},
{"data":{"values":[{}]},"mark":{"type":"point","shape":"M0,-1A1,1,0,1,1,0,1A1,1,0,1,1,0,-1ZM0,-0.72A0.72,0.72,0,1,0,0,0.72A0.72,0.72,0,1,0,0,-0.72ZM-0.14,-1L0.14,-1L0.14,0.1L-0.14,0.1Z","size":250,"fill":"black","strokeWidth":0,"opacity":1},"encoding":{"x":{"datum":1.14,"axis":null},"y":{"datum":4.46,"axis":null}}},
{"data":{"values":[{}]},"mark":{"type":"text","text":"S16","fontSize":19,"align":"left","baseline":"alphabetic"},"encoding":{"x":{"datum":2.32,"axis":null},"y":{"datum":3.98,"axis":null}}}
]},
{"layer":[
{"data":{"values":[{}]},"mark":{"type":"rect","fill":"white","stroke":"black","strokeWidth":1.4},"encoding":{"x":{"datum":-0.1,"type":"quantitative","scale":{"domain":[-0.1,6.1],"range":[497,577]},"axis":null},"x2":{"datum":6.1},"y":{"datum":-0.1,"type":"quantitative","scale":{"domain":[-0.1,5.9],"range":[97,17]},"axis":null},"y2":{"datum":5.9}}},
{"data":{"name":"fits"},"transform":[{"filter":"datum.s==='S17'"}],"mark":{"type":"line","stroke":"#aaa","strokeWidth":0.7},"encoding":{"x":{"field":"x","type":"quantitative","axis":null},"y":{"field":"y","type":"quantitative","axis":null}}},
{"data":{"name":"pts"},"transform":[{"filter":"datum.s==='S17'"}],"mark":{"type":"point","shape":"circle","size":10,"fill":"transparent","stroke":"#333","strokeWidth":0.7,"opacity":1},"encoding":{"x":{"field":"x","type":"quantitative","axis":null},"y":{"field":"y","type":"quantitative","axis":null}}},
{"data":{"values":[{}]},"mark":{"type":"point","shape":"M0,-1A1,1,0,1,1,0,1A1,1,0,1,1,0,-1ZM0,-0.72A0.72,0.72,0,1,0,0,0.72A0.72,0.72,0,1,0,0,-0.72ZM0,0L0,-0.72A0.72,0.72,0,0,1,0.72,0Z","size":280,"fill":"black","strokeWidth":0,"opacity":1},"encoding":{"x":{"datum":1.14,"axis":null},"y":{"datum":4.46,"axis":null}}},
{"data":{"values":[{}]},"mark":{"type":"text","text":"S17","fontSize":19,"align":"left","baseline":"alphabetic"},"encoding":{"x":{"datum":2.32,"axis":null},"y":{"datum":3.98,"axis":null}}}
]}
]
}
